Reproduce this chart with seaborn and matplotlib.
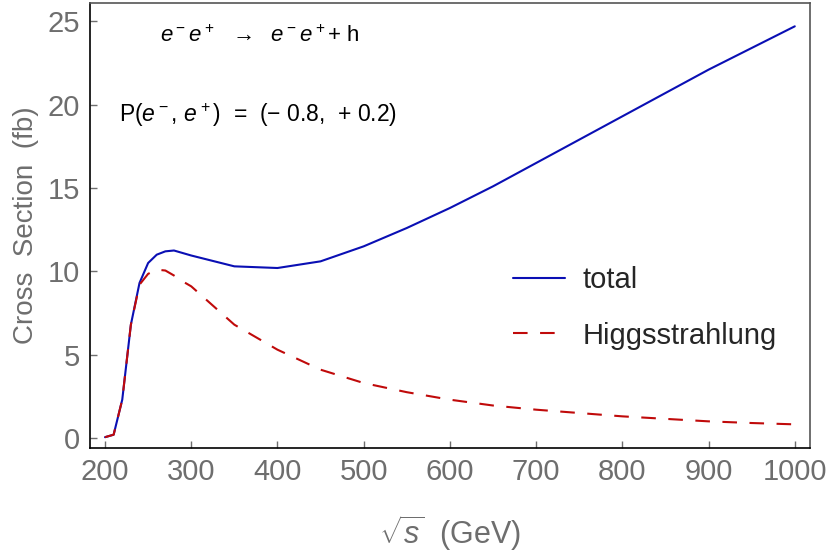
import numpy as np
import pandas as pd
import matplotlib
matplotlib.use('Agg')
import matplotlib.pyplot as plt
import seaborn as sns

# sqrt(s) in GeV
energy = [200, 210, 220, 230, 240, 250, 260, 270, 280, 290, 300, 350, 400, 450,
          500, 550, 600, 650, 700, 750, 800, 850, 900, 950, 1000]
# cross sections in fb
total = [0.05, 0.2, 2.3, 6.8, 9.3, 10.5, 11.0, 11.2, 11.25, 11.1, 10.95, 10.3, 10.2, 10.6,
         11.5, 12.6, 13.8, 15.1, 16.5, 17.9, 19.3, 20.7, 22.1, 23.4, 24.7]
higgsstrahlung = [0.05, 0.2, 2.3, 6.8, 9.2, 9.85, 10.1, 10.05, 9.75, 9.4, 9.1, 6.8, 5.3, 4.1,
                  3.3, 2.75, 2.3, 1.95, 1.7, 1.5, 1.3, 1.15, 1.0, 0.9, 0.82]

sns.set_style('white')
plt.rcParams['font.family'] = ['Liberation Sans', 'DejaVu Sans']
plt.rcParams['mathtext.fontset'] = 'custom'
plt.rcParams['mathtext.rm'] = 'Liberation Sans'
plt.rcParams['mathtext.it'] = 'Liberation Sans:italic'
plt.rcParams['mathtext.sf'] = 'Liberation Sans'

df = pd.DataFrame({'energy': energy + energy,
                   'xs': total + higgsstrahlung,
                   'process': ['total'] * len(energy) + ['Higgsstrahlung'] * len(energy)})

fig = plt.figure(figsize=(8.28, 5.54), dpi=100)
ax = fig.add_axes([0.1087, 0.1913, 0.978 - 0.1087, 0.9946 - 0.1913])

sns.lineplot(data=df, x='energy', y='xs', hue='process', style='process',
             palette={'total': '#0a0fb4', 'Higgsstrahlung': '#c00a0a'},
             dashes={'total': '', 'Higgsstrahlung': (7, 6)},
             linewidth=1.5, ax=ax)

ax.set_xlim(182.6, 1017.4)
ax.set_ylim(-0.6, 26.1)
ax.set_xticks(range(200, 1001, 100))
ax.set_yticks([0, 5, 10, 15, 20, 25])
grey = '#6e6e6e'
ax.tick_params(axis='both', direction='in', length=5, width=1, colors=grey,
               labelsize=21, labelcolor=grey, bottom=True, left=True,
               top=False, right=False, pad=7)
for s in ['left', 'bottom']:
    ax.spines[s].set_color('black')
    ax.spines[s].set_linewidth(1.2)
for s in ['top', 'right']:
    ax.spines[s].set_color('#555555')
    ax.spines[s].set_linewidth(1.2)

ax.set_xlabel(r'$\sqrt{s}$  (GeV)', fontsize=22, color=grey, labelpad=20)
ax.set_ylabel('Cross  Section  (fb)', fontsize=20, color=grey, labelpad=6)

ax.text(0.236, 0.926, r'$e^-e^+$  $\rightarrow$  $e^-e^+$+ h', transform=ax.transAxes,
        fontsize=16, ha='center', va='center', color='black')
ax.text(0.04, 0.748, r'P($e^-$, $e^+$)  =  (− 0.8,  + 0.2)', transform=ax.transAxes,
        fontsize=16.5, ha='left', va='center', color='black')

leg = ax.legend(loc='center left', bbox_to_anchor=(0.551, 0.315), frameon=False,
                fontsize=21, handlelength=1.8, handletextpad=0.6, labelspacing=0.95)
leg.set_title(None)

fig.savefig('out.png', dpi=100)
